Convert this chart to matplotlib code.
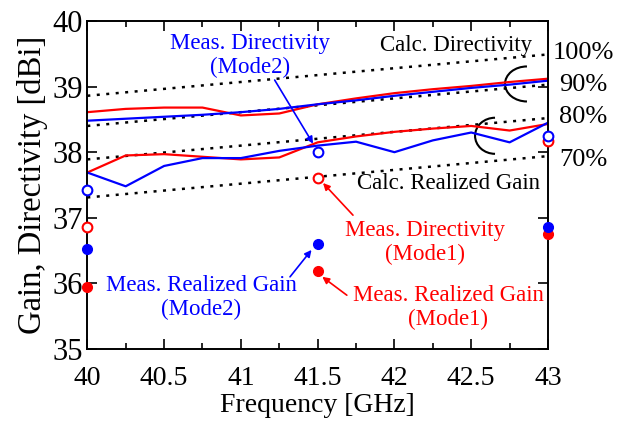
import numpy as np
import matplotlib
matplotlib.use("Agg")
import matplotlib.pyplot as plt
from matplotlib.patches import Arc

plt.rcParams['font.family'] = ['Liberation Serif', 'DejaVu Serif']
plt.rcParams['mathtext.fontset'] = 'stix'

# calculated curves (GHz, dBi)
freq = [40, 40.25, 40.5, 40.75, 41, 41.25, 41.5, 41.75, 42, 42.25, 42.5, 42.75, 43]
calc_dir_mode1 = [38.61, 38.66, 38.68, 38.68, 38.56, 38.59, 38.73, 38.82, 38.90, 38.96, 39.01, 39.07, 39.12]
calc_dir_mode2 = [38.48, 38.51, 38.54, 38.57, 38.61, 38.66, 38.73, 38.79, 38.86, 38.92, 38.98, 39.03, 39.09]
calc_gain_mode1 = [37.69, 37.95, 37.97, 37.93, 37.89, 37.92, 38.15, 38.24, 38.31, 38.36, 38.40, 38.33, 38.43]
calc_gain_mode2 = [37.69, 37.48, 37.79, 37.91, 37.91, 38.02, 38.10, 38.16, 38.00, 38.18, 38.30, 38.15, 38.45]

# efficiency reference lines (end points)
ref_freq = [40, 43]
ref_100 = [38.86, 39.49]
ref_90 = [38.40, 39.03]
ref_80 = [37.89, 38.52]
ref_70 = [37.31, 37.94]
ref_labels = ["100%", "90%", "80%", "70%"]

# measured points
meas_freq = [40, 41.5, 43]
meas_dir_mode1 = [36.86, 37.60, 38.17]
meas_dir_mode2 = [37.42, 38.01, 38.25]
meas_gain_mode1 = [35.94, 36.19, 36.76]
meas_gain_mode2 = [36.52, 36.60, 36.86]

red = '#ff0000'
blue = '#0000ff'

fig = plt.figure(figsize=(6.35, 4.3), dpi=100)
ax = fig.add_axes([0.1375, 0.1884, 0.7255, 0.7628])

for ref in [ref_100, ref_90, ref_80, ref_70]:
    ax.plot(ref_freq, ref, color='black', lw=1.8, linestyle=(0, (1.2, 2.6)))

ax.plot(freq, calc_dir_mode1, color=red, lw=1.6)
ax.plot(freq, calc_dir_mode2, color=blue, lw=1.6)
ax.plot(freq, calc_gain_mode1, color=red, lw=1.6)
ax.plot(freq, calc_gain_mode2, color=blue, lw=1.6)

ms = 7
ax.plot(meas_freq, meas_dir_mode1, 'o', color=red, mfc='white', mew=1.5, ms=ms, ls='none', clip_on=False, zorder=5)
ax.plot(meas_freq, meas_dir_mode2, 'o', color=blue, mfc='white', mew=1.5, ms=ms, ls='none', clip_on=False, zorder=5)
ax.plot(meas_freq, meas_gain_mode1, 'o', color=red, ms=ms, ls='none', clip_on=False, zorder=5)
ax.plot(meas_freq, meas_gain_mode2, 'o', color=blue, ms=ms, ls='none', clip_on=False, zorder=5)

# brackets grouping the calc curves
ax.add_patch(Arc((42.863, 39.04), 0.286, 0.534, theta1=90, theta2=270, color='black', lw=1.5))
ax.add_patch(Arc((42.655, 38.25), 0.26, 0.55, theta1=90, theta2=270, color='black', lw=1.5))

fs = 16.5
ax.text(42.40, 39.63, "Calc. Directivity", fontsize=fs, ha='center', va='center')
ax.text(42.355, 37.53, "Calc. Realized Gain", fontsize=fs, ha='center', va='center')
for lab, yy in zip(ref_labels, [39.51, 39.02, 38.54, 37.88]):
    ax.text(43.23, yy, lab, fontsize=19, ha='center', va='center', clip_on=False)

ax.text(41.06, 39.47, "Meas. Directivity\n(Mode2)", color=blue, fontsize=fs, ha='center', va='center', multialignment='center')
ax.text(42.20, 36.62, "Meas. Directivity\n(Mode1)", color=red, fontsize=fs, ha='center', va='center', multialignment='center')
ax.text(42.35, 35.63, "Meas. Realized Gain\n(Mode1)", color=red, fontsize=fs, ha='center', va='center', multialignment='center')
ax.text(40.74, 35.78, "Meas. Realized Gain\n(Mode2)", color=blue, fontsize=fs, ha='center', va='center', multialignment='center')

arrows = [
    ((41.22, 39.10), (41.47, 38.13), blue),
    ((41.73, 37.04), (41.535, 37.53), red),
    ((41.69, 35.82), (41.53, 36.10), red),
    ((41.32, 36.10), (41.46, 36.51), blue),
]
for start, end, c in arrows:
    ax.annotate("", xy=end, xytext=start,
                arrowprops=dict(arrowstyle='-|>', color=c, lw=1.2, mutation_scale=10, shrinkA=0, shrinkB=0))

ax.set_xlim(40, 43)
ax.set_ylim(35, 40)
ax.set_xticks(np.arange(40, 43.01, 0.5))
ax.set_xticklabels(["40", "40.5", "41", "41.5", "42", "42.5", "43"])
ax.set_xticks(np.arange(40, 43.01, 0.25), minor=True)
ax.set_yticks(np.arange(35, 40.01, 1))
ax.tick_params(axis='x', which='major', direction='in', length=7, width=1.2, top=True, labelsize=20, pad=12)
ax.tick_params(axis='x', which='minor', direction='in', length=4, width=1.2, top=True)
ax.tick_params(axis='y', which='major', direction='in', length=7, width=1.2, right=True, labelsize=22, pad=3)
for s in ax.spines.values():
    s.set_linewidth(1.4)

ax.set_xlabel("Frequency [GHz]", fontsize=20, labelpad=2)
ax.set_ylabel("Gain, Directivity [dBi]", fontsize=23.5, labelpad=3)

fig.savefig("out.png", dpi=100)
